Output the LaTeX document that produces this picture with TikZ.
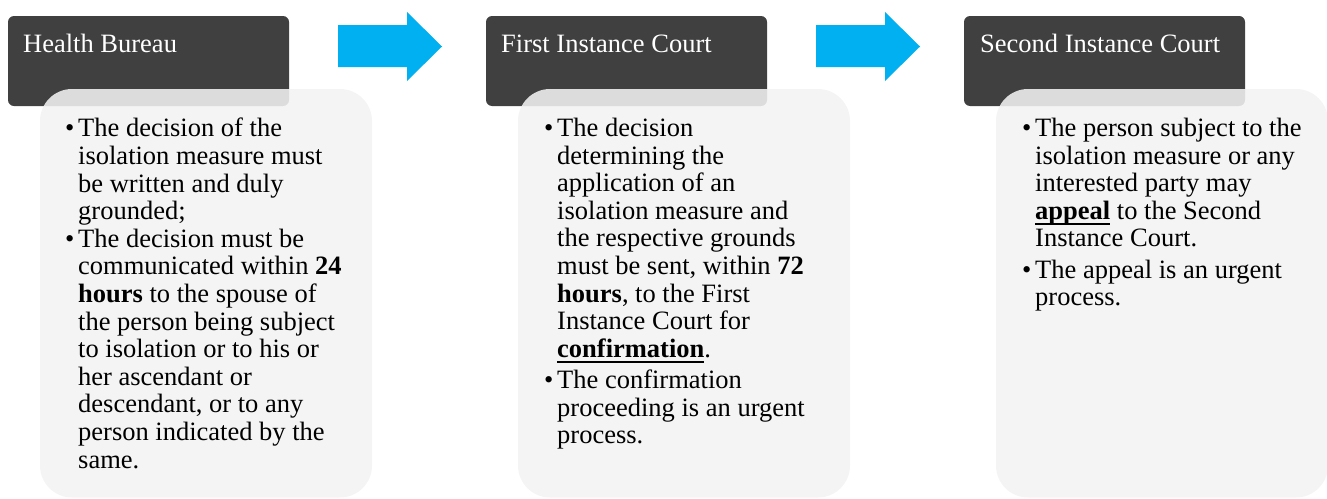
\documentclass[tikz,border=0pt]{standalone}
\usepackage{fontspec}
\setmainfont{Liberation Serif}

\definecolor{hdrgray}{HTML}{404040}
\definecolor{panelgray}{HTML}{F2F2F2}
\definecolor{flowblue}{HTML}{00B0F0}

\newcommand{\bitem}{\llap{\makebox[13pt][l]{\textbullet}}}
\newcommand{\ulbf}[1]{\setbox0\hbox{\textbf{#1}}\rlap{\rule[-5.2pt]{\wd0}{2pt}}\box0\relax}

\tikzset{
  header/.style={fill=hdrgray, rounded corners=6pt},
  panel/.style={fill=panelgray, fill opacity=0.88, rounded corners=32pt},
  flowarrow/.style={fill=flowblue},
  headtext/.style={anchor=base west, inner sep=0pt, text=white,
    font=\rmfamily\fontsize{26.5}{27.6}\selectfont},
  bodytext/.style={anchor=north west, inner sep=0pt, align=left,
    font=\rmfamily\fontsize{26.5}{27.6}\selectfont}
}

\begin{document}
\begin{tikzpicture}[x=1pt,y=-1pt]
  \useasboundingbox (0,0) rectangle (1327,498);

  %%%%%%%%%%%%%Header and panel of each stage%%%%%%%%%%%%%%%%%%%%%%
  \foreach \sx in {0,478,956} {
    \fill[header] (8+\sx,16) rectangle (289+\sx,106);
    \fill[panel] (40+\sx,89) rectangle (372+\sx,497.5);
  }

  %%%%%%%%%%%%%Block arrows%%%%%%%%%%%%%%%%%%%%%%
  \foreach \sx in {0,478}
    \fill[flowarrow] (338+\sx,25) -- (407+\sx,25) -- (407+\sx,12)
      -- (442+\sx,46.5) -- (407+\sx,81) -- (407+\sx,67) -- (338+\sx,67) -- cycle;

  \node[headtext] (hb) at (23,52) {Health Bureau};
  \node[headtext] (fic) at (501,52) {First Instance Court};
  \node[headtext] (sic) at (980,52) {Second Instance Court};

  \node[bodytext] (hbtext) at (78,118) {\bitem The decision of the\\
    isolation measure must\\ be written and duly\\ grounded;\\
    \bitem The decision must be\\ communicated within \textbf{24}\\
    \textbf{hours} to the spouse of\\ the person being subject\\
    to isolation or to his or\\ her ascendant or\\
    descendant, or to any\\ person indicated by the\\ same.};

  \node[bodytext] (fictext) at (557,118) {\bitem The decision\\
    determining the\\ application of an\\ isolation measure and\\
    the respective grounds\\ must be sent, within \textbf{72}\\
    \textbf{hours}, to the First\\ Instance Court for\\ \ulbf{confirmation}.\\[3.5pt]
    \bitem The confirmation\\ proceeding is an urgent\\ process.};

  \node[bodytext] (sictext) at (1035,118) {\bitem The person subject to the\\
    isolation measure or any\\ interested party may\\
    \ulbf{appeal} to the Second\\ Instance Court.\\[3.5pt]
    \bitem The appeal is an urgent\\ process.};
\end{tikzpicture}
\end{document}
